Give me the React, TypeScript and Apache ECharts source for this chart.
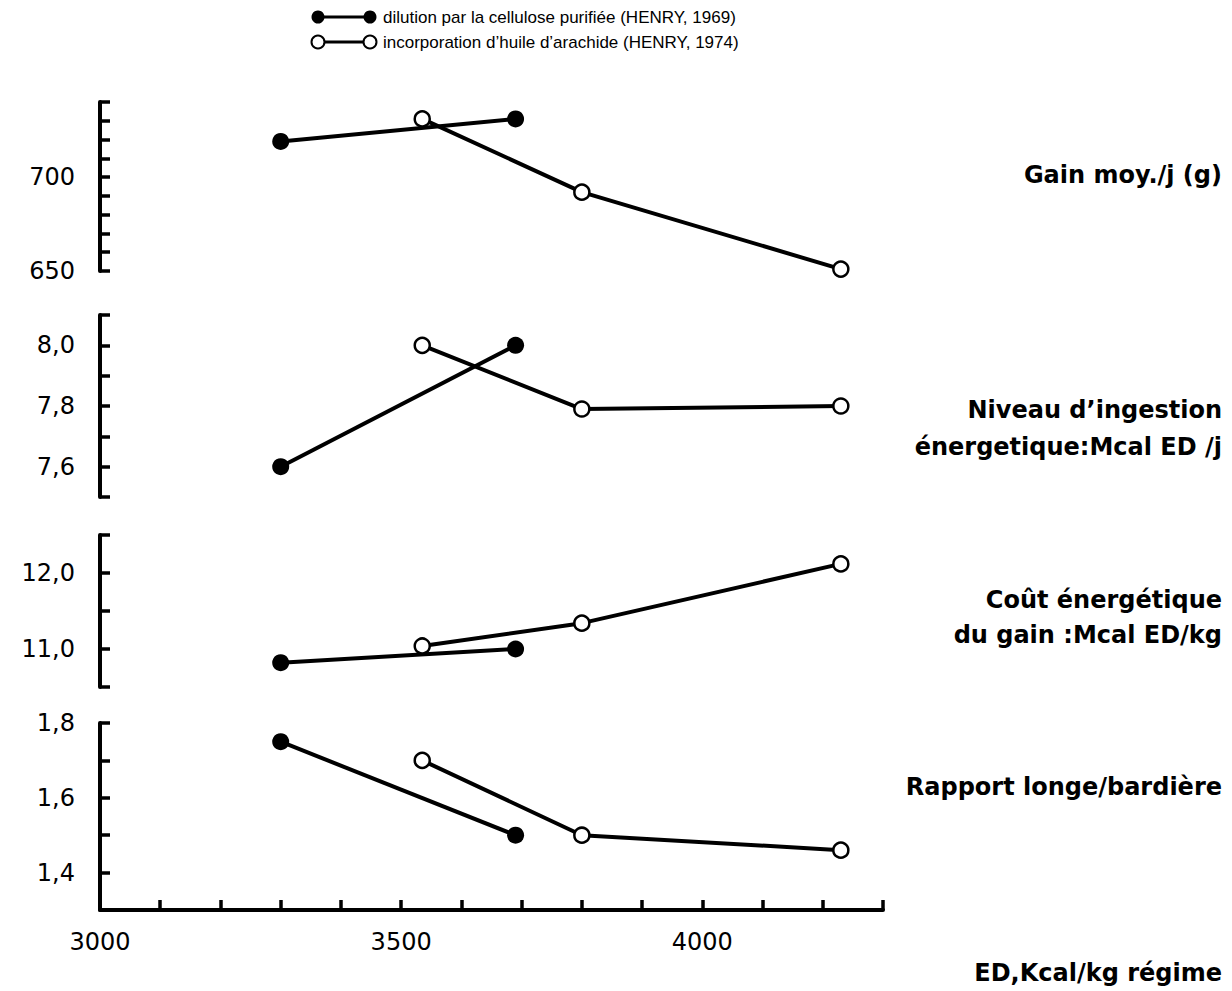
import React, { useEffect, useRef } from "react";
import * as echarts from "echarts";

// ---- data ----
const xFilled = [3300, 3690];
const xOpen = [3535, 3800, 4230];

const gainFilled = [719, 731];
const gainOpen = [731, 692, 651];
const ingestionFilled = [7.6, 8.0];
const ingestionOpen = [8.0, 7.79, 7.8];
const coutFilled = [10.82, 11.0];
const coutOpen = [11.04, 11.34, 12.12];
const rapportFilled = [1.75, 1.5];
const rapportOpen = [1.7, 1.5, 1.46];

const xLabels = [3000, 3500, 4000];
const gainLabels = [650, 700];
const ingestionLabels = [7.6, 7.8, 8.0];
const coutLabels = [11.0, 12.0];
const rapportLabels = [1.4, 1.6, 1.8];

const legendNames = [
  "dilution par la cellulose purifiée (HENRY, 1969)",
  "incorporation d’huile d’arachide (HENRY, 1974)",
];
const panelTitles = [
  ["Gain moy./j (g)"],
  ["Niveau d’ingestion", "énergetique:Mcal ED /j"],
  ["Coût énergétique", "du gain :Mcal ED/kg"],
  ["Rapport longe/bardière"],
];
const xAxisTitle = "ED,Kcal/kg régime";

const FONT = "'DejaVu Sans', 'Liberation Sans', Arial, sans-serif";

function has(list: number[], v: number) {
  return list.some((l) => Math.abs(l - v) < 1e-6);
}

export default function App() {
  const ref = useRef<HTMLDivElement>(null);

  useEffect(() => {
    if (!ref.current) return;
    const chart = echarts.init(ref.current, undefined, { renderer: "svg" });

    const panels = [
      { top: 102, height: 169, min: 650, max: 740, interval: 10, labels: gainLabels, dec: 0, filled: gainFilled, open: gainOpen, titleY: [175] },
      { top: 315, height: 182, min: 7.5, max: 8.1, interval: 0.1, labels: ingestionLabels, dec: 1, filled: ingestionFilled, open: ingestionOpen, titleY: [410, 447] },
      { top: 535, height: 152, min: 10.5, max: 12.5, interval: 0.5, labels: coutLabels, dec: 1, filled: coutFilled, open: coutOpen, titleY: [600, 635] },
      { top: 723, height: 187, min: 1.3, max: 1.8, interval: 0.1, labels: rapportLabels, dec: 1, filled: rapportFilled, open: rapportOpen, titleY: [787] },
    ];

    const axisLine = { show: true, lineStyle: { color: "#000", width: 4 } };
    const axisTick = { show: true, inside: true, length: 10, lineStyle: { color: "#000", width: 3.5 } };

    const grid = panels.map((p) => ({ left: 100, width: 783, top: p.top, height: p.height }));

    const xAxis = panels.map((p, i) => ({
      type: "value",
      gridIndex: i,
      min: 3000,
      max: 4300,
      interval: 100,
      show: i === 3,
      axisLine,
      axisTick,
      splitLine: { show: false },
      axisLabel: {
        show: i === 3,
        margin: 20,
        fontFamily: FONT,
        fontSize: 24,
        color: "#000",
        formatter: (v: number) => (has(xLabels, v) ? String(v) : ""),
      },
    }));

    const yAxis = panels.map((p, i) => ({
      type: "value",
      gridIndex: i,
      min: p.min,
      max: p.max,
      interval: p.interval,
      axisLine,
      axisTick,
      splitLine: { show: false },
      axisLabel: {
        margin: 25,
        fontFamily: FONT,
        fontSize: 24,
        color: "#000",
        formatter: (v: number) =>
          has(p.labels, v) ? v.toFixed(p.dec).replace(".", ",") : "",
      },
    }));

    const series: any[] = [];
    panels.forEach((p, i) => {
      series.push({
        type: "line",
        name: legendNames[0],
        xAxisIndex: i,
        yAxisIndex: i,
        data: xFilled.map((x, k) => [x, p.filled[k]]),
        symbol: "circle",
        symbolSize: 17,
        itemStyle: { color: "#000" },
        lineStyle: { color: "#000", width: 4 },
        z: 2,
      });
      series.push({
        type: "line",
        name: legendNames[1],
        xAxisIndex: i,
        yAxisIndex: i,
        data: xOpen.map((x, k) => [x, p.open[k]]),
        symbol: "circle",
        symbolSize: 15,
        showAllSymbol: true,
        itemStyle: { color: "#fff", borderColor: "#000", borderWidth: 2.5 },
        lineStyle: { color: "#000", width: 4 },
        z: 3,
      });
    });

    const graphic: any[] = [];
    // legend
    [17, 42].forEach((y, i) => {
      graphic.push({
        type: "line",
        shape: { x1: 318, y1: y, x2: 370, y2: y },
        style: { stroke: "#000", lineWidth: 3 },
      });
      [318, 370].forEach((cx) =>
        graphic.push({
          type: "circle",
          shape: { cx, cy: y, r: 6.5 },
          style: i === 0 ? { fill: "#000" } : { fill: "#fff", stroke: "#000", lineWidth: 2 },
        })
      );
      graphic.push({
        type: "text",
        x: 383,
        y,
        style: {
          text: legendNames[i],
          fontFamily: "'Liberation Sans Narrow', 'Liberation Sans', Arial, sans-serif",
          fontSize: 17,
          fill: "#000",
          textAlign: "left",
          textVerticalAlign: "middle",
        },
      });
    });
    // panel titles on the right
    panels.forEach((p, i) => {
      panelTitles[i].forEach((t, k) =>
        graphic.push({
          type: "text",
          x: 1222,
          y: p.titleY[k],
          style: {
            text: t,
            fontFamily: FONT,
            fontWeight: "bold",
            fontSize: 24,
            fill: "#000",
            textAlign: "right",
            textVerticalAlign: "middle",
          },
        })
      );
    });
    graphic.push({
      type: "text",
      x: 1222,
      y: 973,
      style: {
        text: xAxisTitle,
        fontFamily: FONT,
        fontWeight: "bold",
        fontSize: 24,
        fill: "#000",
        textAlign: "right",
        textVerticalAlign: "middle",
      },
    });

    chart.setOption({
      animation: false,
      backgroundColor: "#fff",
      grid,
      xAxis,
      yAxis,
      series,
      graphic,
    });

    return () => chart.dispose();
  }, []);

  return (
    <div
      ref={ref}
      style={{ position: "fixed", left: 0, top: 0, width: 1232, height: 991 }}
    />
  );
}
